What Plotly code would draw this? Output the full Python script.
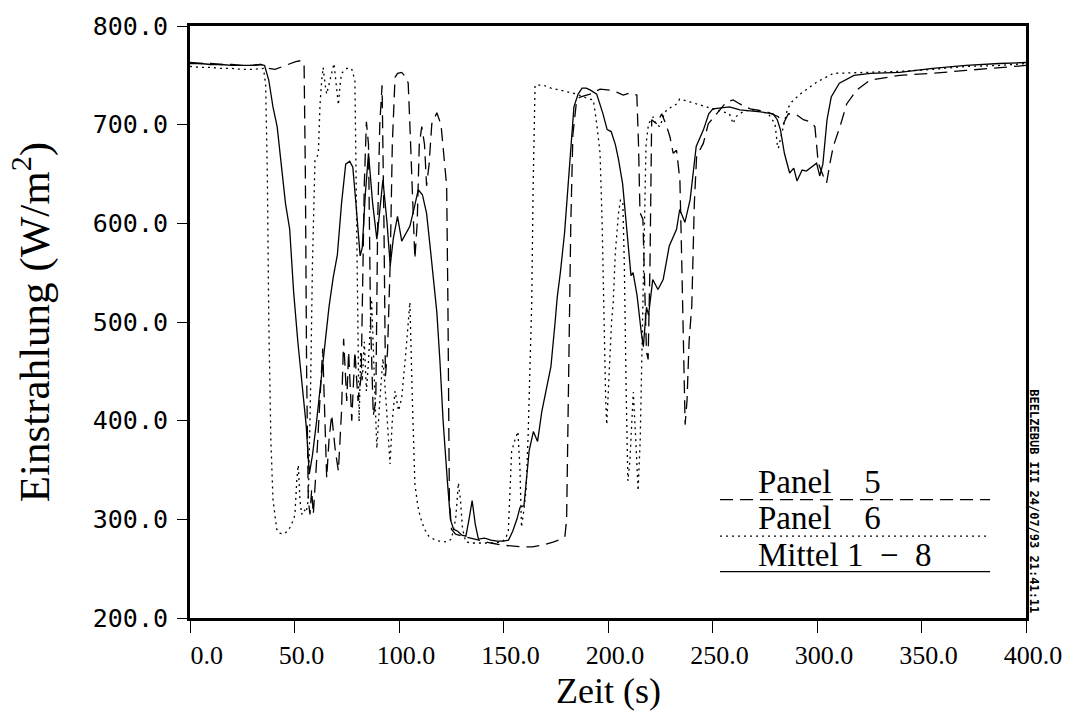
import plotly.graph_objects as go

# ---------------- data ----------------
t_mittel = [0, 5, 9.9, 14.9, 19.9, 24.8, 29.8, 33.8, 35.7, 37.7, 39.7, 41.7, 43.7, 45.7, 47.7, 49.6, 51.6, 53.6, 55.6,
            57.1, 58.6, 60.6, 62.5, 64.5, 66.5, 68.5, 70.5, 72.5, 74.5, 76.4, 77.9, 79.4, 81.4, 82.4, 83.9, 85.4, 87.4,
            89.4, 90.8, 92.3, 94.3, 95.8, 97.3, 99.3, 101.3, 103.3, 105.2, 107.2, 109.2, 111.2, 113.2, 115.2, 116.7,
            118.1, 119.6, 121.1, 123.1, 124.6, 126.1, 128.1, 130.1, 132.0, 133.5, 135.0, 136.5, 138.0, 141.0, 144.0,
            146.9, 149.9, 152.4, 154.4, 156.4, 157.9, 159.8, 160.8, 162.3, 164.3, 166.3, 168.3, 170.8, 172.7, 174.7,
            175.7, 177.2, 179.2, 181.7, 183.7, 185.7, 187.6, 189.6, 191.6, 194.6, 197.6, 199.6, 201.5, 203.5, 205.0,
            207.0, 209.0, 211.0, 212.0, 213.9, 215.9, 216.9, 218.4, 219.4, 221.4, 223.9, 226.4, 229.3, 232.8, 234.3,
            236.8, 239.3, 242.2, 245.7, 248.2, 250.2, 254.2, 258.1, 263.1, 268.1, 273.0, 279.0, 281.0, 282.5, 284.4,
            286.9, 288.9, 290.4, 292.9, 294.9, 298.3, 299.8, 301.3, 302.8, 304.8, 306.8, 310.7, 317.7, 325.6, 339.5,
            355.4, 371.3, 387.2, 400]
v_mittel = [762, 762, 761, 761, 760, 760, 760, 761, 760, 745, 718, 698, 660, 620, 594, 530, 480, 440, 395, 346, 365,
            400, 436, 480, 515, 545, 568, 620, 660, 663, 657, 620, 567, 575, 630, 671, 620, 584, 615, 644, 600, 557,
            585, 607, 582, 590, 597, 615, 634, 629, 610, 570, 540, 510, 460, 400, 340, 300, 290, 288, 284, 283, 300,
            319, 295, 280, 281, 279, 278, 278, 279, 288, 300, 312, 314, 340, 370, 389, 379, 409, 436, 455, 500, 525,
            550, 590, 661, 718, 731, 737, 737, 735, 731, 711, 695, 693, 680, 665, 640, 594, 547, 550, 527, 490, 475,
            515, 507, 543, 533, 543, 577, 594, 614, 601, 624, 678, 695, 711, 716, 717, 718, 715, 714, 713, 711, 705,
            695, 671, 651, 656, 643, 654, 653, 658, 661, 648, 660, 705, 728, 742, 750, 752, 753, 757, 760, 762, 763]

t_panel5 = [0, 5, 9.9, 14.9, 19.9, 24.8, 29.8, 33.8, 35.7, 37.7, 40.7, 43.2, 45.7, 47.7, 50.6, 53.4, 54.6, 55.2, 55.8,
            56.6, 57.4, 58.2, 59.0, 60.6, 62.1, 63.5, 65.4, 66.5, 67.8, 69.5, 71.0, 72.5, 73.5, 75.0, 75.9, 77.4,
            78.9, 80.4, 81.9, 83.4, 84.4, 85.4, 86.4, 87.7, 88.9, 89.8, 90.8, 91.9, 92.8, 93.5, 94.5, 95.8, 96.8,
            98.1, 99.3, 101.3, 103.3, 104.4, 105.2, 106.4, 107.6, 108.7, 109.7, 110.9, 112.2, 113.2, 114.4, 115.7,
            118.1, 120.1, 121.1, 122.8, 123.4, 124.1, 125.1, 127.1, 130.1, 134.0, 139.0, 144.0, 148.9, 153.9, 158.8,
            163.8, 168.8, 173.7, 177.7, 179.4, 180.2, 181.2, 182.2, 183.2, 185.0, 186.6, 191.4, 196.2, 200.9, 204.1,
            207.3, 210.5, 213.8, 214.6, 215.3, 216.7, 217.6, 218.4, 219.2, 220.1, 220.9, 223.3, 225.7, 227.8, 229.6,
            231.2, 232.8, 234.4, 235.3, 236.3, 236.9, 237.8, 238.8, 240.1, 241.3, 242.4, 245.6, 248.0, 252.0, 256.7,
            259.9, 263.1, 268.1, 276.0, 281.5, 283.9, 286.3, 290.3, 293.5, 296.6, 299.0, 300.6, 303.0, 304.6, 306.2,
            307.8, 311.0, 314.2, 319.0, 325.3, 339.5, 355.4, 371.3, 387.2, 400]
v_panel5 = [763, 762, 762, 761, 761, 760, 760, 761, 759, 757, 756, 758, 760, 762, 764, 765, 760, 650, 450, 320, 305,
            330, 305, 360, 420, 473, 342, 380, 406, 370, 349, 409, 483, 420, 470, 400, 470, 420, 445, 640, 703, 680,
            500, 405, 420, 600, 700, 740, 600, 445, 470, 560, 680, 748, 752, 753, 748, 742, 700, 620, 564, 600, 680,
            698, 680, 638, 660, 701, 712, 700, 678, 638, 520, 320, 290, 285, 283, 281, 278, 276, 274, 273, 272, 272,
            274, 277, 280, 283, 300, 450, 600, 690, 725, 728, 731, 736, 735, 733, 730, 732, 730, 680, 611, 604, 530,
            470, 462, 560, 705, 701, 711, 700, 688, 671, 674, 644, 560, 440, 396, 420, 480, 517, 620, 668, 681, 701,
            711, 723, 725, 721, 716, 713, 708, 701, 711, 710, 705, 703, 698, 661, 648, 641, 661, 678, 698, 721, 735,
            745, 750, 752, 755, 758, 760]

t_panel6 = [0, 5, 9.9, 14.9, 19.9, 24.8, 29.8, 33.8, 35.2, 36.2, 37.0, 37.7, 38.7, 39.7, 41.5, 42.7, 44.7, 46.7,
            47.9, 49.6, 50.2, 51.1, 51.8, 52.6, 53.4, 54.6, 55.6, 56.6, 57.6, 58.6, 59.8, 61.4, 62.2, 63.0, 63.7,
            64.7, 65.4, 67.0, 68.9, 70.0, 71.0, 71.8, 72.5, 75.0, 77.3, 78.9, 79.7, 80.2, 80.9, 81.7, 82.4, 83.4,
            84.4, 85.4, 86.9, 88.4, 89.4, 90.8, 92.3, 93.8, 95.7, 96.8, 98.1, 99.8, 101.3, 103.3, 105.2, 106.4,
            107.6, 108.9, 110.2, 112.2, 114.2, 116.5, 119.1, 122.8, 125.1, 127.1, 128.4, 129.4, 130.4, 132.0, 135.0,
            139.0, 144.0, 148.9, 150.9, 152.3, 153.1, 153.9, 155.4, 156.9, 157.9, 158.6, 159.8, 160.8, 161.8, 162.6,
            163.5, 164.2, 165.1, 169.1, 172.7, 177.0, 180.7, 185.0, 189.6, 193.0, 194.6, 196.2, 197.2, 198.1, 198.9,
            199.4, 200.1, 201.0, 201.7, 202.5, 203.5, 205.0, 206.0, 207.1, 207.8, 208.7, 209.5, 210.5, 212.1, 213.3,
            214.4, 215.4, 216.4, 217.4, 218.2, 219.4, 221.7, 222.9, 224.9, 226.4, 228.0, 232.9, 234.3, 239.3, 244.0,
            248.2, 253.2, 258.1, 259.9, 261.1, 265.1, 271.0, 276.7, 278.5, 279.9, 281.0, 281.5, 283.0, 284.6, 285.9,
            287.9, 291.9, 299.8, 307.8, 323.7, 339.5, 355.4, 371.3, 387.2, 400]
v_panel6 = [759, 758, 758, 757, 757, 756, 756, 757, 757, 740, 650, 500, 380, 320, 290, 286, 285, 288, 292, 300, 305,
            340, 355, 320, 305, 310, 307, 320, 420, 560, 664, 670, 720, 745, 758, 740, 731, 745, 762, 740, 720, 740,
            752, 757, 757, 745, 600, 480, 399, 470, 440, 480, 430, 460, 523, 430, 372, 420, 463, 420, 356, 400, 430,
            410, 423, 470, 520, 420, 336, 315, 302, 290, 283, 280, 278, 277, 280, 300, 337, 320, 290, 277, 276, 276,
            276, 277, 280, 288, 330, 369, 380, 389, 350, 292, 310, 330, 386, 450, 520, 640, 740, 740, 737, 735, 733,
            731, 727, 725, 701, 671, 600, 500, 420, 396, 430, 480, 500, 520, 570, 610, 624, 620, 560, 430, 339, 360,
            429, 380, 329, 380, 480, 600, 680, 701, 708, 700, 698, 708, 715, 721, 726, 723, 720, 717, 714, 711, 701,
            708, 714, 715, 711, 706, 701, 680, 676, 690, 705, 716, 723, 731, 743, 752, 753, 754, 756, 759, 760, 762]

x_ticks = [0, 50, 100, 150, 200, 250, 300, 350, 400]
x_tick_labels = ["\u00a0\u00a0\u00a00.0", "50.0", "100.0", "150.0", "200.0", "250.0", "300.0", "350.0", "400.0"]
y_ticks = [200, 300, 400, 500, 600, 700, 800]
legend_names = ["Panel\u00a0\u00a0\u00a0\u00a05", "Panel\u00a0\u00a0\u00a0\u00a06",
                "Mittel 1\u00a0\u00a0\u2212\u00a0\u00a08"]

# ---------------- figure ----------------
fig = go.Figure()
fig.add_trace(go.Scatter(x=t_panel5, y=v_panel5, mode="lines", name="Panel 5",
                         line=dict(color="black", width=1.3, dash="13px,7px")))
fig.add_trace(go.Scatter(x=t_panel6, y=v_panel6, mode="lines", name="Panel 6",
                         line=dict(color="black", width=1.3, dash="2px,4px")))
fig.add_trace(go.Scatter(x=t_mittel, y=v_mittel, mode="lines", name="Mittel 1 - 8",
                         line=dict(color="black", width=1.3)))

fig.update_layout(
    width=1078, height=713,
    margin=dict(l=190, r=52, t=23, b=95),
    paper_bgcolor="white", plot_bgcolor="white",
    showlegend=False,
)
fig.update_xaxes(range=[0, 400], tickvals=x_ticks, ticktext=x_tick_labels,
                 showline=True, linewidth=3, linecolor="black", mirror=True,
                 ticks="outside", ticklen=12, tickwidth=1, tickcolor="black",
                 showgrid=False, zeroline=False, ticklabelstandoff=0, ticklabelshift=7,
                 tickfont=dict(family="Liberation Serif", size=26, color="black"))
fig.update_yaxes(range=[200, 800], tickvals=y_ticks, tickformat=".1f",
                 showline=True, linewidth=3, linecolor="black", mirror=True,
                 ticks="outside", ticklen=10, tickwidth=1, tickcolor="black",
                 showgrid=False, zeroline=False, ticklabelstandoff=4,
                 tickfont=dict(family="DejaVu Sans Mono", size=25, color="black"))

# axis titles
fig.add_annotation(text="Zeit (s)", xref="paper", yref="paper", x=0.5, y=-0.161,
                   xanchor="center", yanchor="bottom", showarrow=False,
                   font=dict(family="Liberation Serif", size=36, color="black"))
fig.add_annotation(text="Einstrahlung (W/m<sup>2</sup>)", xref="paper", yref="paper",
                   x=-0.19, y=0.5, xanchor="center", yanchor="middle", textangle=-90,
                   showarrow=False, font=dict(family="Liberation Serif", size=43, color="black"))

# in-plot legend (text above sample lines)
leg_styles = [dict(dash="13px,7px"), dict(dash="2px,4px"), dict(dash="solid")]
leg_line_v = [320, 283, 247]
leg_text_v = [338, 301.5, 264]
for name, st, lv, tv in zip(legend_names, leg_styles, leg_line_v, leg_text_v):
    fig.add_shape(type="line", xref="x", yref="y", x0=253.6, x1=382.8, y0=lv, y1=lv,
                  line=dict(color="black", width=1.3, **st))
    fig.add_annotation(text=name, xref="x", yref="y", x=271.1, y=tv, xanchor="left",
                       yanchor="middle", showarrow=False, borderpad=0,
                       font=dict(family="Liberation Serif", size=33, color="black"))

# vertical stamp at right
fig.add_annotation(text="BEELZEBUB III 24/07/93 21:41:11", xref="paper", yref="paper",
                   x=1.0096, y=0.197, xanchor="center", yanchor="middle", textangle=90,
                   showarrow=False,
                   font=dict(family="DejaVu Sans Mono", size=12, color="black", weight="bold"))

fig.write_html("out.html")
